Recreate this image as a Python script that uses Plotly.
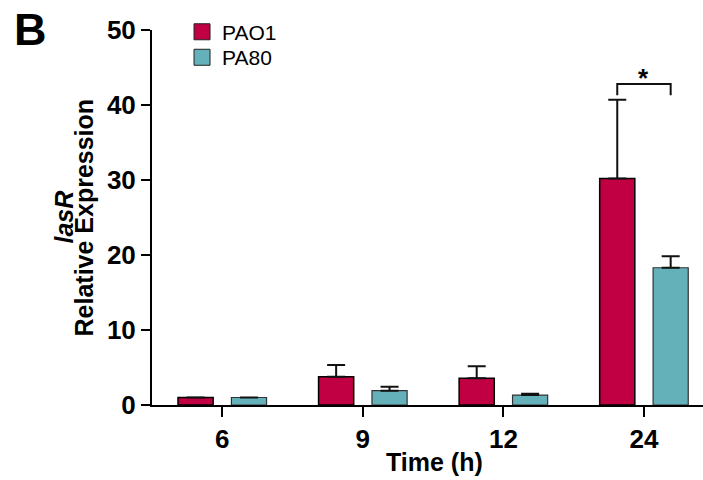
import plotly.graph_objects as go

time_labels = ["6", "9", "12", "24"]
pao1_values = [1.0, 3.78, 3.56, 30.2]
pao1_errors = [0.0, 1.55, 1.6, 10.5]
pa80_values = [1.0, 1.91, 1.33, 18.3]
pa80_errors = [0.0, 0.53, 0.17, 1.55]
y_ticks = [0, 10, 20, 30, 40, 50]

PAO1_COLOR = "#C10044"
PA80_COLOR = "#65B1B9"
FONT = "Liberation Sans, Arial, sans-serif"

BAR_W = 0.25
OFFSET = 0.19

fig = go.Figure()
fig.add_trace(go.Bar(
    x=time_labels, y=pao1_values, name="PAO1", showlegend=False,
    width=BAR_W, offset=-OFFSET - BAR_W / 2,
    marker=dict(color=PAO1_COLOR, line=dict(color="black", width=1.5)),
    error_y=dict(type="data", array=pao1_errors, symmetric=False,
                 arrayminus=[0] * len(pao1_errors), thickness=2, width=9, color="#111"),
))
fig.add_trace(go.Bar(
    x=time_labels, y=pa80_values, name="PA80", showlegend=False,
    width=BAR_W, offset=OFFSET - BAR_W / 2,
    marker=dict(color=PA80_COLOR, line=dict(color="#333", width=1.2)),
    error_y=dict(type="data", array=pa80_errors, symmetric=False,
                 arrayminus=[0] * len(pa80_errors), thickness=2, width=9, color="#111"),
))
# legend entries (one legend box per series, stacked)
for nm, col, lg in [("PAO1", PAO1_COLOR, "legend"), ("PA80", PA80_COLOR, "legend2")]:
    fig.add_trace(go.Scatter(
        x=[None], y=[None], mode="markers", name=nm, legend=lg,
        marker=dict(symbol="square", size=16, color=col, line=dict(color="#222", width=1)),
    ))

# significance bracket over 24 h
i24 = time_labels.index("24")
top_24 = pao1_values[i24] + pao1_errors[i24]
br_y = top_24 + 2.1
fig.add_shape(type="path",
              path=f"M {i24 - OFFSET},{br_y - 1.5} L {i24 - OFFSET},{br_y} L {i24 + OFFSET},{br_y} L {i24 + OFFSET},{br_y - 1.5}",
              xref="x", yref="y", line=dict(color="#111", width=2))
fig.add_annotation(x=i24, y=br_y, xref="x", yref="y", text="*", showarrow=False,
                   yanchor="bottom", yshift=-11,
                   font=dict(family=FONT, size=26, color="black", weight="bold"))

# panel letter
fig.add_annotation(x=0, y=1, xref="paper", yref="paper", xanchor="left", yanchor="top",
                   text="B", showarrow=False, xshift=-140, yshift=28,
                   font=dict(family=FONT, size=45, color="black", weight="bold"))

# y title as two lines
fig.add_annotation(x=0, y=0.5, xref="paper", yref="paper", text="<i>lasR</i>",
                   showarrow=False, textangle=-90, xanchor="center", yanchor="middle",
                   xshift=-89,
                   font=dict(family=FONT, size=25, color="black", weight="bold"))
fig.add_annotation(x=0, y=0.5, xref="paper", yref="paper", text="Relative Expression",
                   showarrow=False, textangle=-90, xanchor="center", yanchor="middle",
                   xshift=-69,
                   font=dict(family=FONT, size=25, color="black", weight="bold"))
# x title
fig.add_annotation(x=0.5136, y=0, xref="paper", yref="paper", text="Time (h)",
                   showarrow=False, xanchor="center", yanchor="middle", yshift=-57,
                   font=dict(family=FONT, size=25, color="black", weight="bold"))

legend_common = dict(xanchor="left", yanchor="top",
                     font=dict(family=FONT, size=21, color="black"),
                     bgcolor="rgba(0,0,0,0)", itemwidth=30)

fig.update_layout(
    width=703, height=480,
    margin=dict(l=152, r=0, t=30, b=75),
    plot_bgcolor="white", paper_bgcolor="white",
    barmode="overlay",
    font=dict(family=FONT, color="black"),
    legend=dict(x=0.0545, y=1.049, **legend_common),
    legend2=dict(x=0.0545, y=0.981, **legend_common),
    xaxis=dict(
        type="category", range=[-0.5, 3.42],
        showline=True, linecolor="black", linewidth=2,
        ticks="outside", ticklen=10, tickwidth=2, tickcolor="black",
        tickfont=dict(family=FONT, size=26, color="black", weight="bold"),
        showgrid=False, zeroline=False,
    ),
    yaxis=dict(
        range=[0, 50], tickvals=y_ticks,
        showline=True, linecolor="black", linewidth=2,
        ticks="outside", ticklen=9, tickwidth=2, tickcolor="black",
        tickfont=dict(family=FONT, size=26, color="black", weight="bold"),
        showgrid=False, zeroline=False,
    ),
)

fig.write_html("out.html")
